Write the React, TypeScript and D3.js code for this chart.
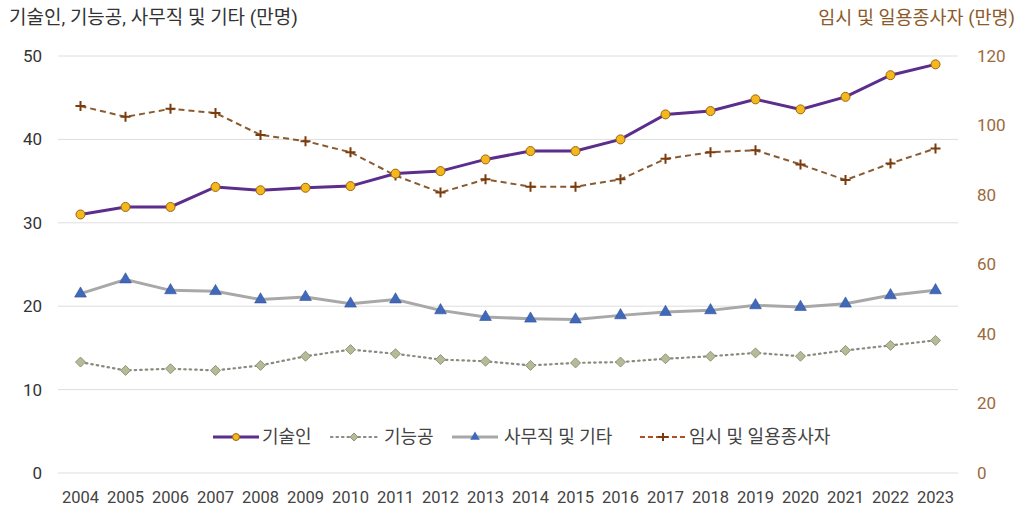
import * as d3 from "d3";

const years = [
  "2004", "2005", "2006", "2007", "2008", "2009", "2010", "2011", "2012", "2013",
  "2014", "2015", "2016", "2017", "2018", "2019", "2020", "2021", "2022", "2023",
];

// 좌축 (만명)
const technicians = [31.0, 31.9, 31.9, 34.3, 33.9, 34.2, 34.4, 35.9, 36.2, 37.6, 38.6, 38.6, 40.0, 43.0, 43.4, 44.8, 43.6, 45.1, 47.7, 49.0];
const craftsmen = [13.3, 12.3, 12.5, 12.3, 12.9, 14.0, 14.8, 14.3, 13.6, 13.4, 12.9, 13.2, 13.3, 13.7, 14.0, 14.4, 14.0, 14.7, 15.3, 15.9];
const clerical = [21.5, 23.2, 21.9, 21.8, 20.8, 21.1, 20.3, 20.8, 19.5, 18.7, 18.5, 18.4, 18.9, 19.3, 19.5, 20.1, 19.9, 20.3, 21.3, 21.9];
// 우축 (만명)
const dailyWorkers = [105.6, 102.5, 104.8, 103.6, 97.3, 95.5, 92.3, 85.6, 80.7, 84.5, 82.4, 82.4, 84.5, 90.4, 92.3, 92.9, 88.8, 84.3, 89.1, 93.4];

const leftTicks = [0, 10, 20, 30, 40, 50];
const rightTicks = [0, 20, 40, 60, 80, 100, 120];

const W = 1021;
const H = 510;
const FONT = "Roboto, 'Noto Sans CJK KR', sans-serif";

const x = d3.scaleBand().domain(years).range([58, 958]);
const yL = d3.scaleLinear().domain([0, 50]).range([473, 56]);
const yR = d3.scaleLinear().domain([0, 120]).range([473, 56]);
const cx = (d: string) => x(d)! + x.bandwidth() / 2;

const lineL = d3.line<number>().x((_, i) => cx(years[i])).y((v) => yL(v));
const lineR = d3.line<number>().x((_, i) => cx(years[i])).y((v) => yR(v));

const triangle = d3.symbol(d3.symbolTriangle, 60)()!;
const diamond = "M0,-5L5,0L0,5L-5,0Z";

const Circle = ({ px, py }: { px: number; py: number }) => (
  <circle cx={px} cy={py} r={4.5} fill="#f4b81c" stroke="#9a6410" strokeWidth={1} />
);
const Diamond = ({ px, py }: { px: number; py: number }) => (
  <path d={diamond} transform={`translate(${px},${py})`} fill="#b5bb98" stroke="#8f9675" strokeWidth={1} />
);
const Tri = ({ px, py }: { px: number; py: number }) => (
  <path d={triangle} transform={`translate(${px},${py})`} fill="#4169bb" stroke="#2f4f96" strokeWidth={0.6} />
);
const Plus = ({ px, py }: { px: number; py: number }) => (
  <path d="M-5,0H5M0,-5V5" transform={`translate(${px},${py})`} stroke="#7b3b0c" strokeWidth={2} />
);

const legend = [
  { label: "기술인", x0: 213, textX: 262, kind: "tech" },
  { label: "기능공", x0: 331, textX: 384, kind: "craft" },
  { label: "사무직 및 기타", x0: 452, textX: 504, kind: "cler" },
  { label: "임시 및 일용종사자", x0: 640, textX: 689, kind: "daily" },
];

const App = () => {
  const ly = 437;
  return (
    <svg width={W} height={H} style={{ position: "absolute", left: 0, top: 0, background: "#fff" }} fontFamily={FONT}>
      {/* 축 제목 */}
      <text x={9} y={24} fontSize={19} fill="#333">기술인, 기능공, 사무직 및 기타 (만명)</text>
      <text x={1015} y={24} fontSize={18.5} fill="#8b5a2b" textAnchor="end">임시 및 일용종사자 (만명)</text>

      {/* 그리드 */}
      {leftTicks.map((t) => (
        <line key={t} x1={58} x2={958} y1={yL(t)} y2={yL(t)} stroke="#dedede" strokeWidth={1} />
      ))}
      {leftTicks.map((t) => (
        <text key={t} x={42} y={yL(t)} dy="0.35em" fontSize={17} fill="#333" textAnchor="end">{t}</text>
      ))}
      {rightTicks.map((t) => (
        <text key={t} x={977} y={yR(t)} dy="0.35em" fontSize={17} fill="#9b6a3c">{t}</text>
      ))}
      {years.map((yr) => (
        <text key={yr} x={cx(yr)} y={503} fontSize={16.5} fill="#444" textAnchor="middle">{yr}</text>
      ))}

      {/* 기능공 */}
      <path d={lineL(craftsmen)!} fill="none" stroke="#8a8a80" strokeWidth={2.2} strokeDasharray="1.5,4" strokeLinecap="round" />
      {craftsmen.map((v, i) => <Diamond key={i} px={cx(years[i])} py={yL(v)} />)}

      {/* 사무직 및 기타 */}
      <path d={lineL(clerical)!} fill="none" stroke="#a8a8a8" strokeWidth={3} />
      {clerical.map((v, i) => <Tri key={i} px={cx(years[i])} py={yL(v)} />)}

      {/* 임시 및 일용종사자 */}
      <path d={lineR(dailyWorkers)!} fill="none" stroke="#8a5a30" strokeWidth={2} strokeDasharray="6,4" />
      {dailyWorkers.map((v, i) => <Plus key={i} px={cx(years[i])} py={yR(v)} />)}

      {/* 기술인 */}
      <path d={lineL(technicians)!} fill="none" stroke="#5b2d8c" strokeWidth={3} />
      {technicians.map((v, i) => <Circle key={i} px={cx(years[i])} py={yL(v)} />)}

      {/* 범례 */}
      {legend.map((l) => {
        const mid = l.x0 + 23;
        return (
          <g key={l.kind}>
            {l.kind === "tech" && (
              <>
                <line x1={l.x0} x2={l.x0 + 46} y1={ly} y2={ly} stroke="#5b2d8c" strokeWidth={3} />
                <circle cx={mid} cy={ly} r={3.5} fill="#f4b81c" stroke="#9a6410" />
              </>
            )}
            {l.kind === "craft" && (
              <>
                <line x1={l.x0} x2={l.x0 + 46} y1={ly} y2={ly} stroke="#8a8a80" strokeWidth={2.2} strokeDasharray="1.5,4" strokeLinecap="round" />
                <path d="M0,-4L4,0L0,4L-4,0Z" transform={`translate(${mid},${ly})`} fill="#b5bb98" stroke="#8f9675" />
              </>
            )}
            {l.kind === "cler" && (
              <>
                <line x1={l.x0} x2={l.x0 + 46} y1={ly} y2={ly} stroke="#a8a8a8" strokeWidth={3} />
                <path d={d3.symbol(d3.symbolTriangle, 40)()!} transform={`translate(${mid},${ly})`} fill="#4169bb" />
              </>
            )}
            {l.kind === "daily" && (
              <>
                <line x1={l.x0} x2={l.x0 + 46} y1={ly} y2={ly} stroke="#b4501e" strokeWidth={2} strokeDasharray="5,3" />
                <path d="M-5,0H5M0,-4V4" transform={`translate(${mid},${ly})`} stroke="#7b3b0c" strokeWidth={2} />
              </>
            )}
            <text x={l.textX} y={ly} dy="0.35em" fontSize={18} fill="#444">{l.label}</text>
          </g>
        );
      })}
    </svg>
  );
};

export default App;
